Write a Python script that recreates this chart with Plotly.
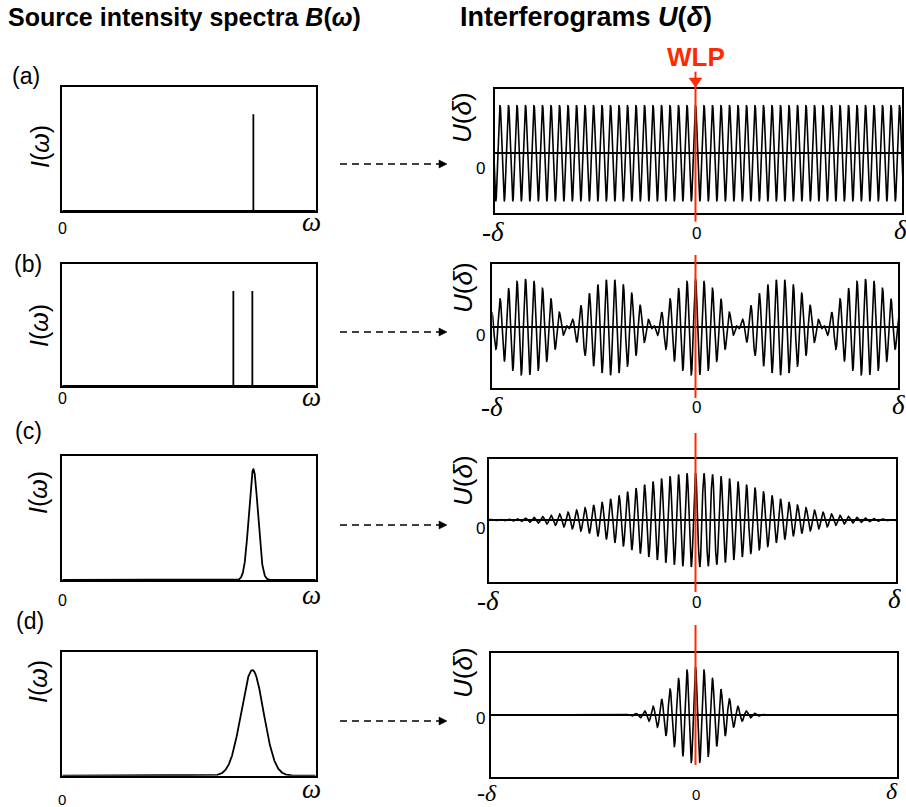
import numpy as np
import plotly.graph_objects as go

W, H = 906, 807

# ---------------- source spectra (frequency normalised to 0..1) ----------------
LINE_A_OMEGA = [0.754]
LINE_A_HEIGHT = [1.0]
LINE_B_OMEGA = [0.675, 0.750]
LINE_B_HEIGHT = [1.0, 1.0]
GAUSS_CENTER = [0.754, 0.750]      # panels (c), (d)
GAUSS_SIGMA = [0.0178, 0.044]
GAUSS_HEIGHT = [1.147, 1.095]

# ---------------- interferograms (delta in units of the fringe period) ----------------
FRINGE_PERIOD = 1.0
BEAT_PERIOD_B = 10.0               # spacing of envelope maxima for the doublet
ENVELOPE_SIGMA = [7.9, 2.7]        # coherence envelope widths for (c), (d)

PANELS = ["(a)", "(b)", "(c)", "(d)"]

# ---------------- panel boxes in pixels (left, right, top, bottom) ----------------
LEFT_BOX = [(62.3, 315.7, 86.7, 211.0), (62.3, 315.7, 264.0, 386.0),
            (62.3, 315.7, 456.0, 580.0), (62.3, 315.7, 651.7, 775.7)]
RIGHT_BOX = [(495.0, 902.0, 89.3, 213.3), (492.3, 898.0, 264.3, 388.3),
             (489.3, 896.0, 459.0, 582.3), (490.7, 896.7, 652.7, 776.7)]
ZERO_PX = 695.5      # horizontal pixel of delta = 0
PX_PER_PERIOD = 8.5
RIGHT_YRANGE = [(-1.25, 1.333), (-1.27, 1.31), (-1.326, 1.298), (-1.285, 1.30)]
LEFT_YRANGE = (0.0, 1.285)


def px(x):
    return x / W


def py(y):
    return 1 - y / H


def spike_trace(omegas, heights):
    xs, ys = [0.0], [0.0]
    for w, h in zip(omegas, heights):
        xs += [w, w, w]
        ys += [0.0, h, 0.0]
    xs.append(1.0)
    ys.append(0.0)
    return xs, ys


omega = np.linspace(0, 1, 2001)
spectra = [
    spike_trace(LINE_A_OMEGA, LINE_A_HEIGHT),
    spike_trace(LINE_B_OMEGA, LINE_B_HEIGHT),
    (omega, GAUSS_HEIGHT[0] * np.exp(-(omega - GAUSS_CENTER[0]) ** 2 / (2 * GAUSS_SIGMA[0] ** 2))),
    (omega, GAUSS_HEIGHT[1] * np.exp(-(omega - GAUSS_CENTER[1]) ** 2 / (2 * GAUSS_SIGMA[1] ** 2))),
]

delta = np.linspace(-25, 25, 6001)
carrier = np.cos(2 * np.pi * delta / FRINGE_PERIOD)
interferograms = [
    carrier,
    carrier * np.cos(np.pi * delta / BEAT_PERIOD_B),
    carrier * np.exp(-delta ** 2 / (2 * ENVELOPE_SIGMA[0] ** 2)),
    carrier * np.exp(-delta ** 2 / (2 * ENVELOPE_SIGMA[1] ** 2)),
]

fig = go.Figure()
layout = dict(width=W, height=H, margin=dict(l=0, r=0, t=0, b=0),
              paper_bgcolor="white", plot_bgcolor="white", showlegend=False)

axis_common = dict(showline=True, mirror=True, linecolor="black", linewidth=1.5,
                   showgrid=False, zeroline=False, showticklabels=False, ticks="",
                   fixedrange=True)

for i in range(4):
    # spectrum panel
    n = 2 * i + 1
    l, r, t, b = LEFT_BOX[i]
    xs, ys = spectra[i]
    fig.add_trace(go.Scatter(x=xs, y=ys, mode="lines", line=dict(color="black", width=1.8),
                             xaxis=f"x{n}", yaxis=f"y{n}", hoverinfo="skip"))
    layout[f"xaxis{n}"] = dict(axis_common, domain=[px(l), px(r)], range=[0, 1], anchor=f"y{n}")
    layout[f"yaxis{n}"] = dict(axis_common, domain=[py(b), py(t)], range=list(LEFT_YRANGE), anchor=f"x{n}")

    # interferogram panel
    m = 2 * i + 2
    l, r, t, b = RIGHT_BOX[i]
    xr = [(l - ZERO_PX) / PX_PER_PERIOD, (r - ZERO_PX) / PX_PER_PERIOD]
    fig.add_trace(go.Scatter(x=delta, y=interferograms[i], mode="lines",
                             line=dict(color="black", width=1.6),
                             xaxis=f"x{m}", yaxis=f"y{m}", hoverinfo="skip"))
    layout[f"xaxis{m}"] = dict(axis_common, domain=[px(l), px(r)], range=xr, anchor=f"y{m}")
    layout[f"yaxis{m}"] = dict(axis_common, domain=[py(b), py(t)], range=list(RIGHT_YRANGE[i]),
                               anchor=f"x{m}", zeroline=True, zerolinecolor="black",
                               zerolinewidth=1.5)

SANS = "Liberation Sans, Arial, sans-serif"
SERIF = "Liberation Serif, Times New Roman, serif"
RED = "#ff2a00"

annotations = []


def text(s, x, y, size, family=SANS, color="black", angle=0, yanchor="middle"):
    annotations.append(dict(text=s, x=px(x), y=py(y), xref="paper", yref="paper",
                            xanchor="center", yanchor=yanchor, showarrow=False,
                            textangle=angle, borderpad=0,
                            font=dict(size=size, family=family, color=color)))


text("<b>Source intensity spectra <i>B</i>(<i>ω</i>)</b>", 184, 17, 25)
text("<b>Interferograms <i>U</i>(<i>δ</i>)</b>", 586, 17, 27)
text("<b>WLP</b>", 696, 57, 26, color=RED)

LETTER_POS = [(26, 76), (28, 264), (29, 431), (30, 621)]
ILABEL_POS = [(40, 147), (39, 326), (38, 493), (38, 682)]
ULABEL_POS = [(462, 118), (463, 287), (463, 480), (463, 672)]
UZERO_POS = [(480, 168), (480, 335), (480, 528), (480, 718)]
LEFT_BOTTOM_Y = [(228, 222), (398, 397), (600, 595), (799, 789)]
RIGHT_BOTTOM = [(493, 900, 232), (492, 898, 407), (488, 894, 601), (487, 892, 793)]
ARROW_Y = [164, 332, 525, 721]
RED_SPAN = [(71.7, 221.7), (255, 398), (433, 592), (625, 765)]

for i in range(4):
    last = i == 3
    text(PANELS[i], *LETTER_POS[i], 23)
    text("<i>I</i>(<i>ω</i>)", *ILABEL_POS[i], 25, angle=-90)
    text("<i>U</i>(<i>δ</i>)", *ULABEL_POS[i], 26, angle=-90)
    text("0", *UZERO_POS[i], 17)
    y0, yw = LEFT_BOTTOM_Y[i]
    text("0", 62, y0, 15 if last else 16)
    text("<i>ω</i>", 311, yw, 27, family=SERIF)
    xl, xr_, yb = RIGHT_BOTTOM[i]
    size_b = 24 if last else 27
    text("-<i>δ</i>", xl, yb, size_b, family=SERIF)
    text("0", 696, yb + 1, 15 if last else 17)
    text("<i>δ</i>", xr_, yb - 2, size_b, family=SERIF)

shapes = []
for i in range(4):
    ya = py(ARROW_Y[i])
    shapes.append(dict(type="line", xref="paper", yref="paper", x0=px(340), x1=px(440),
                       y0=ya, y1=ya, line=dict(color="black", width=1.4, dash="7px,5px")))
    shapes.append(dict(type="path", xref="paper", yref="paper", fillcolor="black",
                       line=dict(color="black", width=0.5),
                       path=f"M {px(439)} {py(ARROW_Y[i] - 4)} L {px(447)} {ya} "
                            f"L {px(439)} {py(ARROW_Y[i] + 4)} Z"))
    m = 2 * i + 2
    t0, t1 = RED_SPAN[i]
    shapes.append(dict(type="line", xref=f"x{m}", yref="paper", x0=0, x1=0,
                       y0=py(t0), y1=py(t1), line=dict(color=RED, width=2)))

# arrowhead marking the white-light position
shapes.append(dict(type="path", xref="paper", yref="paper", fillcolor=RED,
                   line=dict(color=RED, width=0.5),
                   path=f"M {px(ZERO_PX - 6.5)} {py(78)} L {px(ZERO_PX + 6.5)} {py(78)} "
                        f"L {px(ZERO_PX)} {py(87)} Z"))

layout["annotations"] = annotations
layout["shapes"] = shapes
fig.update_layout(**layout)
fig.write_html("out.html")
